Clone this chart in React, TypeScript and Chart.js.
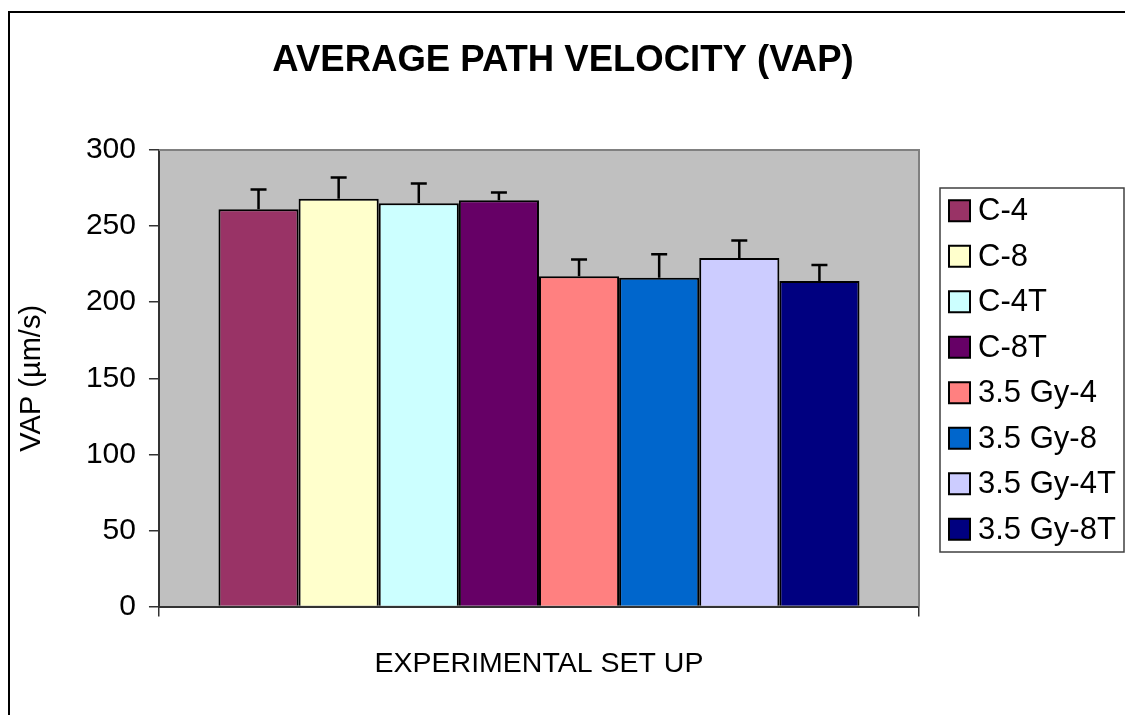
import React, { useEffect, useRef } from "react";
import { Chart, registerables } from "chart.js";

Chart.register(...registerables);

const FONT = "'Liberation Sans', Arial, Helvetica, sans-serif";

const categories = [""];
const seriesLabels = ["C-4", "C-8", "C-4T", "C-8T", "3.5 Gy-4", "3.5 Gy-8", "3.5 Gy-4T", "3.5 Gy-8T"];
const seriesValues = [261, 268, 265, 267, 217, 216, 229, 214];
const seriesErrors = [13, 14, 13, 5, 11, 15.5, 11.5, 10.5];
const seriesColors = ["#993366", "#FFFFCC", "#CCFFFF", "#660066", "#FF8080", "#0066CC", "#CCCCFF", "#000080"];
const yTickValues = [0, 50, 100, 150, 200, 250, 300];
const chartTitle = "AVERAGE PATH VELOCITY (VAP)";
const xAxisTitle = "EXPERIMENTAL SET UP";
const yAxisTitle = "VAP (µm/s)";

const plotBackground = {
  id: "plotBackground",
  beforeDraw(chart: any) {
    const { ctx, chartArea: a } = chart;
    ctx.save();
    ctx.fillStyle = "#C0C0C0";
    ctx.fillRect(a.left, a.top, a.right - a.left, a.bottom - a.top);
    ctx.restore();
  },
  afterDraw(chart: any) {
    const { ctx, chartArea: a } = chart;
    ctx.save();
    ctx.strokeStyle = "#808080";
    ctx.lineWidth = 2;
    ctx.beginPath();
    ctx.moveTo(a.left, a.top);
    ctx.lineTo(a.right, a.top);
    ctx.lineTo(a.right, a.bottom);
    ctx.stroke();
    ctx.restore();
  },
};

const errorBars = {
  id: "errorBars",
  afterDatasetsDraw(chart: any) {
    const { ctx } = chart;
    const yScale = chart.scales.y;
    ctx.save();
    ctx.strokeStyle = "#000";
    ctx.lineWidth = 2.5;
    chart.data.datasets.forEach((ds: any, i: number) => {
      const meta = chart.getDatasetMeta(i);
      meta.data.forEach((bar: any, j: number) => {
        const v = ds.data[j];
        const e = ds.errors[j];
        const yTop = yScale.getPixelForValue(v + e);
        const yBar = yScale.getPixelForValue(v);
        ctx.beginPath();
        ctx.moveTo(bar.x, yBar);
        ctx.lineTo(bar.x, yTop);
        ctx.moveTo(bar.x - 8, yTop);
        ctx.lineTo(bar.x + 8, yTop);
        ctx.stroke();
      });
    });
    ctx.restore();
  },
};

const titleAndLegend = {
  id: "titleAndLegend",
  afterDraw(chart: any) {
    const { ctx } = chart;
    ctx.save();
    // chart title centred on the whole canvas
    ctx.fillStyle = "#000";
    ctx.font = `bold 36.5px ${FONT}`;
    ctx.textAlign = "center";
    ctx.textBaseline = "middle";
    ctx.fillText(chartTitle, 563, 61);

    // legend
    const left = 940;
    const right = 1124;
    const top = 188;
    const rowH = 45.5;
    const n = chart.data.datasets.length;
    ctx.fillStyle = "#FFFFFF";
    ctx.fillRect(left, top, right - left, rowH * n);
    ctx.strokeStyle = "#404040";
    ctx.lineWidth = 1.5;
    ctx.strokeRect(left, top, right - left, rowH * n);
    ctx.font = `31px ${FONT}`;
    ctx.textBaseline = "middle";
    ctx.textAlign = "left";
    chart.data.datasets.forEach((ds: any, i: number) => {
      const cy = top + rowH * (i + 0.5);
      ctx.fillStyle = ds.backgroundColor;
      ctx.fillRect(949, cy - 10.5, 21, 21);
      ctx.strokeStyle = "#000";
      ctx.lineWidth = 2;
      ctx.strokeRect(949, cy - 10.5, 21, 21);
      ctx.fillStyle = "#000";
      ctx.fillText(ds.label, 978, cy + 1);
    });

    // outer frame
    ctx.strokeStyle = "#000";
    ctx.lineWidth = 2;
    ctx.beginPath();
    ctx.moveTo(9, 715);
    ctx.lineTo(9, 12);
    ctx.lineTo(1125, 12);
    ctx.stroke();
    ctx.restore();
  },
};

export default function App() {
  const canvasRef = useRef<HTMLCanvasElement | null>(null);

  useEffect(() => {
    document.body.style.margin = "0";
    const canvas = canvasRef.current;
    if (!canvas) return;
    const chart = new Chart(canvas, {
      type: "bar",
      data: {
        labels: categories,
        datasets: seriesLabels.map((label, i) => ({
          label,
          data: [seriesValues[i]],
          errors: [seriesErrors[i]],
          backgroundColor: seriesColors[i],
          borderColor: "#000000",
          borderWidth: 2,
          categoryPercentage: 0.8434,
          barPercentage: 1.0,
        })) as any,
      },
      options: {
        animation: false,
        responsive: false,
        devicePixelRatio: 1,
        layout: { padding: { top: 150, left: 14.6, right: 206, bottom: 34.2 } },
        plugins: {
          legend: { display: false },
          tooltip: { enabled: false },
          title: { display: false },
        },
        scales: {
          x: {
            type: "category",
            grid: {
              display: true,
              drawOnChartArea: false,
              offset: true,
              tickLength: 10,
              color: "#333",
              lineWidth: 1.5,
            },
            border: { display: true, color: "#333", width: 2 },
            ticks: { display: false },
            title: {
              display: true,
              text: xAxisTitle,
              color: "#000",
              font: { family: FONT, size: 28.5 },
              padding: { top: 30, bottom: 0 },
            },
          },
          y: {
            min: 0,
            max: 300,
            afterBuildTicks: (scale: any) => {
              scale.ticks = yTickValues.map((v) => ({ value: v }));
            },
            grid: {
              display: true,
              drawOnChartArea: false,
              tickLength: 10,
              color: "#333",
              lineWidth: 1.5,
            },
            border: { display: true, color: "#333", width: 2 },
            ticks: {
              color: "#000",
              font: { family: FONT, size: 30 },
              padding: 13,
            },
            title: {
              display: true,
              text: yAxisTitle,
              color: "#000",
              font: { family: FONT, size: 29 },
              padding: { top: 0, bottom: 23.5 },
            },
          },
        },
      } as any,
      plugins: [plotBackground, errorBars, titleAndLegend],
    });
    return () => chart.destroy();
  }, []);

  return (
    <div style={{ position: "absolute", left: 0, top: 0, width: 1125, height: 715, background: "#fff" }}>
      <canvas ref={canvasRef} width={1125} height={715} style={{ width: 1125, height: 715, display: "block" }} />
    </div>
  );
}
